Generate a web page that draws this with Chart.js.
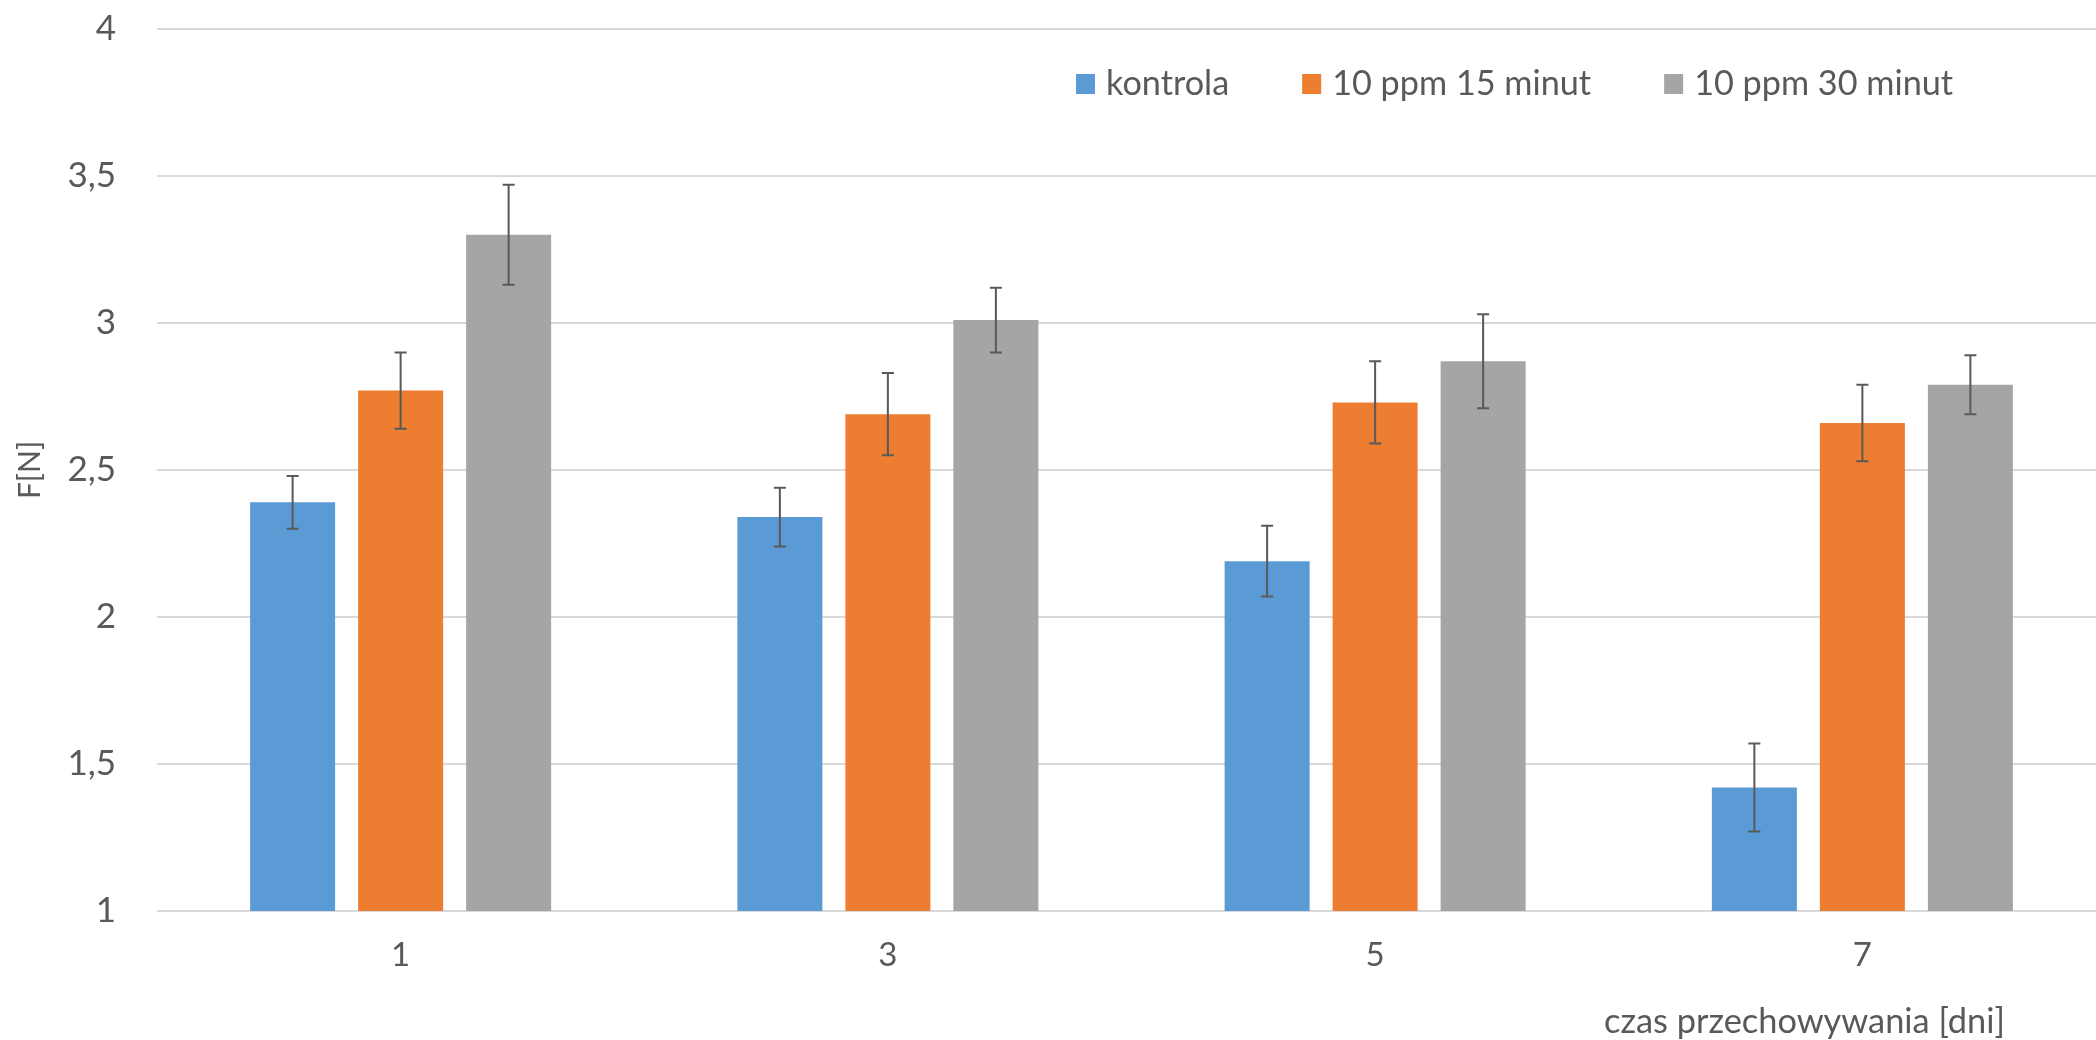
<!DOCTYPE html>
<html>
<head>
<meta charset="utf-8">
<script src="https://cdn.jsdelivr.net/npm/chart.js@4/dist/chart.umd.min.js"></script>
<style>
  html, body { margin: 0; padding: 0; background: #ffffff; overflow: hidden; width: 2096px; height: 1040px; }
  canvas { display: block; }
</style>
</head>
<body>
<canvas id="c" width="2106" height="1040"></canvas>
<script>
const categories = ["1", "3", "5", "7"];
const seriesNames = ["kontrola", "10 ppm 15 minut", "10 ppm 30 minut"];
const kontrola = [2.39, 2.34, 2.19, 1.42];
const ppm15 = [2.77, 2.69, 2.73, 2.66];
const ppm30 = [3.30, 3.01, 2.87, 2.79];
const errKontrola = [0.09, 0.10, 0.12, 0.15];
const errPpm15 = [0.13, 0.14, 0.14, 0.13];
const errPpm30 = [0.17, 0.11, 0.16, 0.10];
const yTicks = [1, 1.5, 2, 2.5, 3, 3.5, 4];
const yTitle = "F[N]";
const xTitle = "czas przechowywania [dni]";

const colors = ["#5B9BD5", "#ED7D31", "#A5A5A5"];
const textColor = "#595959";
const FONT = "Lato, 'Open Sans', sans-serif";

const errorBarsPlugin = {
  id: 'errorBars',
  afterDatasetsDraw(chart) {
    const ctx = chart.ctx;
    const y = chart.scales.y;
    ctx.save();
    ctx.strokeStyle = "#595959";
    ctx.lineWidth = 2;
    chart.data.datasets.forEach((ds, di) => {
      const meta = chart.getDatasetMeta(di);
      meta.data.forEach((bar, i) => {
        const v = ds.data[i], e = ds.errors[i];
        const yt = y.getPixelForValue(v + e);
        const yb = y.getPixelForValue(v - e);
        const x = bar.x;
        ctx.beginPath();
        ctx.moveTo(x, yt); ctx.lineTo(x, yb);
        ctx.moveTo(x - 6, yt); ctx.lineTo(x + 6, yt);
        ctx.moveTo(x - 6, yb); ctx.lineTo(x + 6, yb);
        ctx.stroke();
      });
    });
    ctx.restore();
  }
};

function fitSize(ctx, text, targetWidth) {
  ctx.font = "100px " + FONT;
  return 100 * targetWidth / ctx.measureText(text).width;
}

const legendAndTitlePlugin = {
  id: 'legendAndTitle',
  afterDraw(chart) {
    const ctx = chart.ctx;
    ctx.save();
    // legend: font fitted so the last label is ~259px wide as in the reference
    const lsize = fitSize(ctx, seriesNames[2], 259);
    ctx.font = lsize + "px " + FONT;
    ctx.textBaseline = "middle";
    ctx.textAlign = "left";
    let x = 1076;
    const yc = 84;
    chart.data.datasets.forEach((ds) => {
      ctx.fillStyle = ds.backgroundColor;
      ctx.fillRect(x, yc - 10, 19, 20);
      ctx.fillStyle = textColor;
      ctx.fillText(ds.label, x + 30, yc);
      x += 30 + ctx.measureText(ds.label).width + 73;
    });
    // x axis title, fitted to ~401px wide, right end near 2005
    const tsize = fitSize(ctx, xTitle, 401);
    ctx.font = tsize + "px " + FONT;
    ctx.textAlign = "right";
    ctx.textBaseline = "alphabetic";
    ctx.fillText(xTitle, 2005, 1033);
    ctx.restore();
  }
};

const datasets = [kontrola, ppm15, ppm30].map((vals, i) => ({
  label: seriesNames[i],
  data: vals,
  errors: [errKontrola, errPpm15, errPpm30][i],
  backgroundColor: colors[i],
  borderWidth: 0,
  barPercentage: 0.787,
  categoryPercentage: 0.665
}));

new Chart(document.getElementById('c'), {
  type: 'bar',
  data: { labels: categories, datasets },
  plugins: [errorBarsPlugin, legendAndTitlePlugin],
  options: {
    responsive: false,
    animation: false,
    devicePixelRatio: 1,
    layout: { padding: { top: 29, right: 0, left: 0, bottom: 0 } },
    plugins: { legend: { display: false }, tooltip: { enabled: false } },
    scales: {
      x: {
        grid: { display: false, drawTicks: false },
        border: { display: false },
        ticks: { color: textColor, font: { family: FONT, size: 33 }, padding: 25 },
        afterFit(scale) { scale.height = 129; }
      },
      y: {
        min: 1, max: 4,
        afterBuildTicks(scale) { scale.ticks = yTicks.map(v => ({ value: v })); },
        grid: { color: "#d9d9d9", lineWidth: 2, drawTicks: true, tickLength: 41, tickColor: "rgba(0,0,0,0)" },
        border: { display: false },
        ticks: {
          color: textColor,
          font: { family: FONT, size: 35 },
          padding: 0,
          callback: (v) => String(v).replace('.', ',')
        },
        title: {
          display: true, text: yTitle, color: textColor,
          font: { family: FONT, size: 30 },
          padding: { top: 12, bottom: 0 }
        },
        afterFit(scale) { scale.width = 157; }
      }
    }
  }
});
</script>
</body>
</html>
